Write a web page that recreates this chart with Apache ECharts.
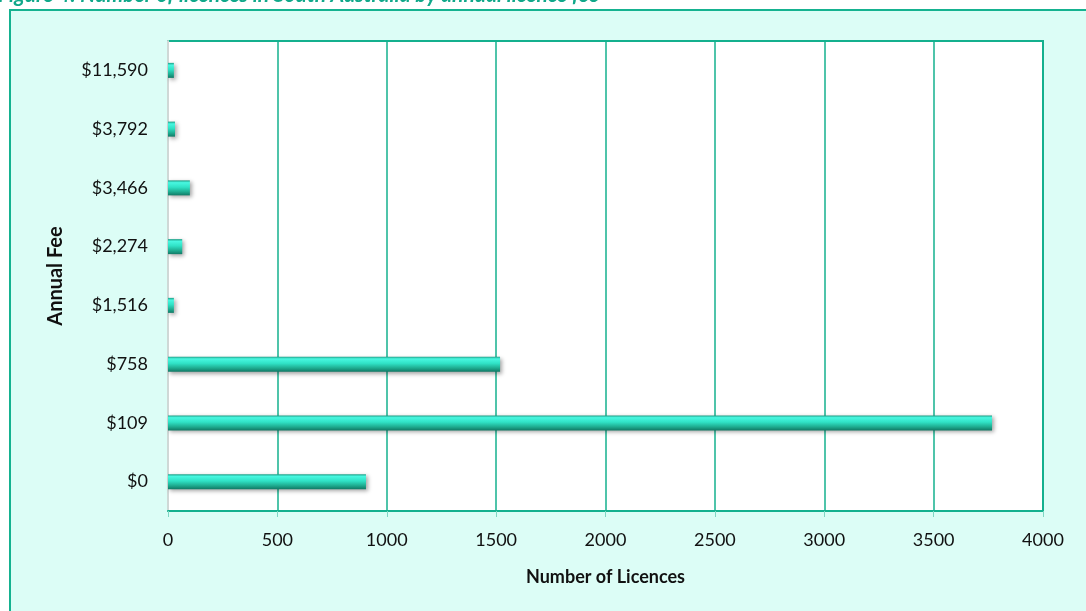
<!DOCTYPE html>
<html><head><meta charset="utf-8">
<script src="https://cdn.jsdelivr.net/npm/echarts@6/dist/echarts.min.js"></script>
<style>html,body{margin:0;padding:0;background:#fff}#c{width:1086px;height:611px}</style>
</head><body><div id="c"></div>
<script>
const categories = ['$0','$109','$758','$1,516','$2,274','$3,466','$3,792','$11,590'];
const licences = [905, 3767, 1518, 27, 65, 100, 32, 27];
const xTicks = [0,500,1000,1500,2000,2500,3000,3500,4000];
const titleText = 'Figure 4: Number of licences in South Australia by annual licence fee';
const font = 'Lato, "Open Sans", sans-serif';
const chart = echarts.init(document.getElementById('c'));
chart.setOption({
  backgroundColor: '#ffffff',
  animation: false,
  graphic: [
    {type:'rect', shape:{x:10,y:10,width:1090,height:610}, style:{fill:'#dcfdf6', stroke:'#15b290', lineWidth:2}, z:-10},
    {type:'text', x:-2, y:-15, style:{text:titleText, fill:'#10a88a', font:'italic bold 21px ' + font}, z:5}
  ],
  grid: {left:168, right:43, top:41, bottom:100, show:true, backgroundColor:'#ffffff', borderWidth:2, borderColor:'#14b08e'},
  xAxis: {
    type:'value', min:0, max:4000, interval:500,
    name:'Number of Licences', nameLocation:'middle', nameGap:57,
    nameTextStyle:{fontFamily:font, fontWeight:'bold', fontSize:18, color:'#111'},
    axisLine:{show:true, lineStyle:{color:'#14b08e', width:2}},
    axisTick:{show:true, length:6, lineStyle:{color:'#7fd6c3'}},
    axisLabel:{fontFamily:font, fontSize:18, color:'#111', margin:20, formatter: v => String(v)},
    splitLine:{show:true, lineStyle:{color:'#14b08e', width:1.5}}
  },
  yAxis: {
    type:'category', data:categories,
    name:'Annual Fee', nameLocation:'middle', nameGap:102, nameRotate:90,
    nameTextStyle:{fontFamily:font, fontWeight:'bold', fontSize:20, color:'#111'},
    axisLine:{show:true, lineStyle:{color:'#cfd8d6', width:2}},
    axisTick:{show:false},
    axisLabel:{fontFamily:font, fontSize:18, color:'#111', margin:20}
  },
  series: [{
    type:'bar', data:licences, barWidth:15,
    itemStyle:{
      color: new echarts.graphic.LinearGradient(0,0,0,1,[
        {offset:0, color:'#1d9c84'},
        {offset:0.15, color:'#48f7e0'},
        {offset:0.45, color:'#30e2c6'},
        {offset:0.75, color:'#1fae92'},
        {offset:1, color:'#117a66'}
      ]),
      shadowColor:'rgba(0,0,0,0.35)', shadowBlur:4, shadowOffsetX:2, shadowOffsetY:2
    }
  }]
});
</script></body></html>
